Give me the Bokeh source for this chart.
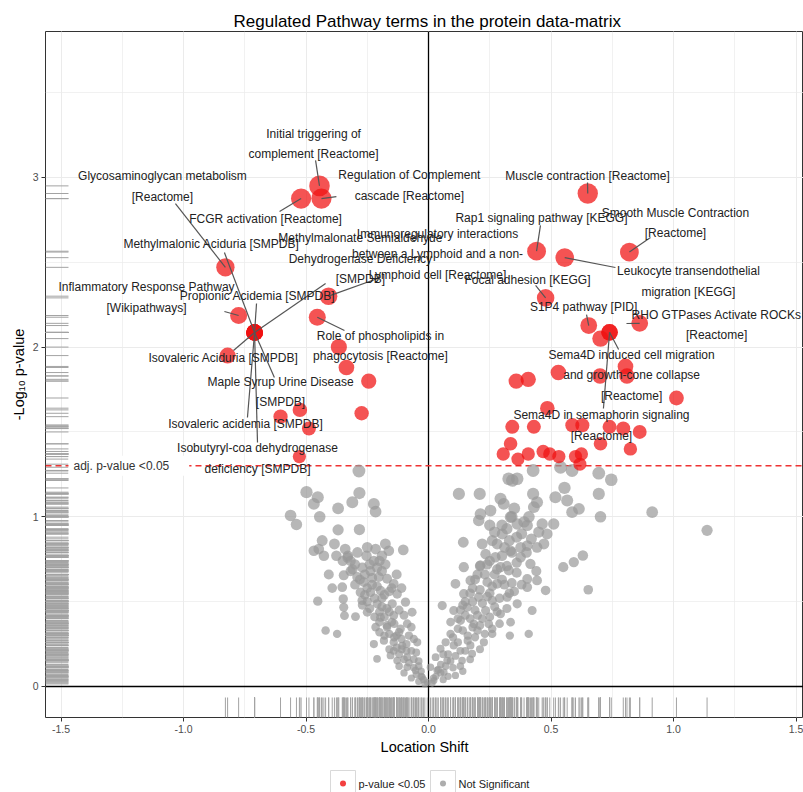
from bokeh.plotting import figure
from bokeh.models import Range1d, SingleIntervalTicker, PrintfTickFormatter, Label
from bokeh.layouts import column
from bokeh.core.properties import value
from bokeh.embed import file_html
from bokeh.resources import INLINE

TITLE = "Regulated Pathway terms in the protein data-matrix"
X_LABEL = "Location Shift"
Y_LABEL = "-Log\u2081\u2080 p-value"
THRESHOLD = 1.301
THRESH_TEXT = "adj. p-value <0.05"
LEGEND_LABELS = ["p-value <0.05", "Not Significant"]

# ---- labelled significant terms (location shift, -log10 p) ----
term_names = [
    "Initial triggering of\ncomplement [Reactome]",
    "Regulation of Complement\ncascade [Reactome]",
    "FCGR activation [Reactome]",
    "Glycosaminoglycan metabolism\n[Reactome]",
    "Methylmalonic Aciduria [SMPDB]",
    "Methylmalonate Semialdehyde\nDehydrogenase Deficiency\n[SMPDB]",
    "Immunoregulatory interactions\nbetween a Lymphoid and a non-\nLymphoid cell [Reactome]",
    "Inflammatory Response Pathway\n[Wikipathways]",
    "Propionic Acidemia [SMPDB]",
    "Isovaleric Aciduria [SMPDB]",
    "Maple Syrup Urine Disease\n[SMPDB]",
    "Isovaleric acidemia [SMPDB]",
    "Isobutyryl-coa dehydrogenase\ndeficiency [SMPDB]",
    "Role of phospholipids in\nphagocytosis [Reactome]",
    "Muscle contraction [Reactome]",
    "Rap1 signaling pathway [KEGG]",
    "Smooth Muscle Contraction\n[Reactome]",
    "Leukocyte transendothelial\nmigration [KEGG]",
    "Focal adhesion [KEGG]",
    "S1P4 pathway [PID]",
    "RHO GTPases Activate ROCKs\n[Reactome]",
    "Sema4D induced cell migration\nand growth-cone collapse\n[Reactome]",
    "Sema4D in semaphorin signaling\n[Reactome]",
]
term_x = [-0.445, -0.437, -0.520, -0.829, -0.710, -0.710, -0.408, -0.775, -0.710, -0.710,
          -0.710, -0.710, -0.710, -0.454, 0.650, 0.441, 0.820, 0.556, 0.478, 0.654,
          0.862, 0.739, 0.739]
term_y = [2.950, 2.875, 2.875, 2.470, 2.086, 2.086, 2.300, 2.186, 2.086, 2.086,
          2.086, 2.086, 2.086, 2.176, 2.905, 2.565, 2.560, 2.527, 2.290, 2.127,
          2.140, 2.087, 2.087]

# label placement (repelled text centres and leader-line ends)
label_x = [-0.469, -0.078, -0.665, -1.086, -0.886, -0.278, 0.037, -1.151, -0.698, -0.837,
           -0.604, -0.747, -0.698, -0.196, 0.649, 0.461, 1.008, 1.061, 0.404, 0.633,
           1.176, 0.829, 0.706]
label_y = [3.197, 2.952, 2.752, 2.946, 2.610, 2.522, 2.546, 2.292, 2.304, 1.933,
           1.735, 1.544, 1.344, 2.006, 3.011, 2.758, 2.731, 2.387, 2.398, 2.239,
           2.130, 1.833, 1.538]
lead_x = [-0.461, -0.376, -0.608, -1.033, -0.833, -0.420, -0.196, -0.833, -0.702, -0.796,
          -0.629, -0.739, -0.698, -0.343, 0.649, 0.457, 0.906, 0.763, 0.437, 0.645,
          0.808, 0.776, 0.714]
lead_y = [3.100, 2.887, 2.799, 2.846, 2.557, 2.375, 2.410, 2.210, 2.257, 1.980,
          1.821, 1.585, 1.438, 2.098, 2.970, 2.717, 2.646, 2.469, 2.363, 2.192,
          2.139, 1.986, 1.638]

# ---- other significant terms ----
sig_x = [-0.820, -0.366, -0.335, -0.244, -0.273, -0.604, -0.525, -0.488, -0.527,
         0.702, 0.804, 0.810, 0.700, 0.530, 0.358, 0.407, 1.012, 0.485, 0.342, 0.430,
         0.587, 0.628, 0.739, 0.795, 0.862, 0.702, 0.824, 0.335, 0.305, 0.365, 0.407,
         0.468, 0.495, 0.532, 0.600, 0.624, 0.618]
sig_y = [1.950, 2.000, 1.880, 1.800, 1.610, 1.590, 1.630, 1.520, 1.355,
         2.050, 1.886, 1.830, 1.830, 1.850, 1.800, 1.810, 1.700, 1.640, 1.530, 1.530,
         1.540, 1.540, 1.530, 1.520, 1.500, 1.430, 1.400, 1.430, 1.370, 1.340, 1.370,
         1.385, 1.370, 1.355, 1.355, 1.370, 1.310]

# ---- not significant terms ----
ns_x = [-0.284, -0.498, -0.452, -0.468, -0.563, -0.539, -0.444, -0.369, -0.311, -0.282,
        -0.223, -0.216, -0.369, -0.282, -0.434, -0.468, -0.448, -0.427, -0.384, -0.376,
        -0.329, -0.318, -0.253, -0.216, -0.176, -0.162, -0.103, -0.176, -0.223, -0.237,
        -0.407, -0.346, -0.318, -0.291, -0.264, -0.203, -0.169, -0.142, -0.393, -0.352,
        -0.278, -0.237, -0.196, -0.128, -0.452, -0.348, -0.346, -0.271, -0.210, -0.148,
        -0.094, -0.343, -0.298, -0.250, -0.196, -0.142, -0.067, -0.420, -0.373, -0.216,
        -0.169, -0.114, -0.087, -0.223, -0.182, -0.142, -0.107, -0.046, -0.210, -0.155,
        -0.128, -0.087, -0.087, -0.053, -0.026, -0.005, -0.142,
        -0.230, -0.190, -0.170, -0.150, -0.130, -0.120, -0.100, -0.080, -0.070, -0.060,
        -0.040, -0.030, -0.020, -0.110, -0.090, -0.160, -0.180, -0.200, -0.250, -0.260,
        -0.300, -0.350, -0.210, -0.190, -0.130, -0.110, -0.070, -0.050, -0.120, -0.100,
        -0.070, -0.040, -0.015, -0.060, -0.160, -0.200,
        -0.030, -0.050, -0.060, -0.080, -0.100, -0.040, -0.120, -0.090, -0.130, -0.160,
        -0.110, -0.140, -0.180, -0.120, -0.170, -0.200, -0.140, -0.220, -0.160, -0.240,
        -0.190, -0.270, -0.220, -0.180, -0.260, -0.210, -0.250, -0.300, -0.150, -0.230,
        -0.280, -0.190, -0.270, -0.310, -0.240, -0.330, -0.200, -0.290, -0.250, -0.340,
        0.124, 0.209, 0.342, 0.362, 0.327, 0.427, 0.539, 0.586, 0.695, 0.746,
        0.695, 0.702, 0.913, 1.137, 0.555, 0.518, 0.566, 0.614, 0.586, 0.427,
        0.443, 0.294, 0.307, 0.430, 0.212, 0.253, 0.205, 0.335, 0.362, 0.403,
        0.464, 0.511, 0.484, 0.142, 0.219, 0.260, 0.301, 0.335, 0.376, 0.403,
        0.443, 0.471, 0.233, 0.273, 0.376, 0.416, 0.550, 0.593, 0.630, 0.652,
        0.144, 0.212, 0.294, 0.328, 0.110, 0.171, 0.240, 0.280, 0.403, 0.443,
        0.403, 0.478, 0.144, 0.205, 0.260, 0.321, 0.362, 0.423, 0.056, 0.103,
        0.158, 0.233, 0.294, 0.131, 0.185, 0.246, 0.335, 0.409, 0.332, 0.226,
        0.260, 0.090, 0.049, 0.103, 0.171, 0.178, 0.029, 0.076, 0.137, 0.008,
        0.035, 0.110, 0.022, 0.063,
        0.180, 0.200, 0.250, 0.270, 0.310, 0.350, 0.150, 0.190, 0.220, 0.270,
        0.120, 0.160, 0.200, 0.290, 0.070, 0.130, 0.080, 0.050, 0.100, 0.030,
        0.015, 0.060, 0.140, 0.210, 0.360, 0.380, 0.300, 0.410, 0.250, 0.350,
        0.240, 0.310, 0.440, 0.130, 0.090, 0.170,
        0.040, 0.070, 0.090, 0.110, 0.060, 0.150, 0.120, 0.160, 0.190, 0.230,
        0.100, 0.140, 0.180, 0.210, 0.260, 0.120, 0.150, 0.200, 0.250, 0.280,
        0.320, 0.140, 0.180, 0.220, 0.240, 0.290, 0.330, 0.170, 0.210, 0.260,
        0.300, 0.340, 0.380, 0.190, 0.230, 0.280, 0.320, 0.360, 0.210, 0.250,
        0.300, 0.340, 0.400, 0.280, 0.330, 0.360, 0.420, 0.270, 0.320, 0.450,
        0.390, 0.340, 0.050, 0.020, 0.080, 0.130, 0.170]
ns_y = [1.270, 1.145, 1.115, 1.076, 1.008, 0.955, 1.000, 1.050, 1.086, 1.140,
        1.076, 1.030, 0.923, 0.925, 0.860, 0.800, 0.810, 0.770, 0.840, 0.770,
        0.770, 0.740, 0.770, 0.810, 0.840, 0.800, 0.805, 0.720, 0.740, 0.680,
        0.660, 0.655, 0.680, 0.645, 0.615, 0.645, 0.635, 0.605, 0.580, 0.585,
        0.555, 0.555, 0.565, 0.545, 0.503, 0.516, 0.467, 0.507, 0.487, 0.487,
        0.497, 0.418, 0.412, 0.438, 0.408, 0.418, 0.438, 0.330, 0.310, 0.350,
        0.350, 0.340, 0.370, 0.250, 0.270, 0.260, 0.240, 0.260, 0.163, 0.183,
        0.153, 0.173, 0.114, 0.094, 0.055, 0.025, 0.210,
        0.600, 0.520, 0.460, 0.380, 0.300, 0.450, 0.420, 0.300, 0.210, 0.160,
        0.120, 0.090, 0.040, 0.220, 0.250, 0.310, 0.410, 0.440, 0.500, 0.660,
        0.720, 0.740, 0.700, 0.770, 0.660, 0.580, 0.350, 0.200, 0.120, 0.080,
        0.050, 0.030, 0.015, 0.280, 0.560, 0.320,
        0.060, 0.070, 0.110, 0.140, 0.160, 0.150, 0.190, 0.210, 0.230, 0.220,
        0.280, 0.290, 0.300, 0.320, 0.360, 0.380, 0.370, 0.410, 0.440, 0.460,
        0.470, 0.480, 0.520, 0.540, 0.540, 0.590, 0.580, 0.600, 0.580, 0.640,
        0.630, 0.680, 0.700, 0.690, 0.720, 0.760, 0.740, 0.790, 0.820, 0.810,
        1.135, 1.135, 1.214, 1.224, 1.224, 1.273, 1.292, 1.273, 1.257, 1.218,
        1.135, 1.000, 1.027, 0.920, 1.170, 1.115, 1.096, 1.047, 1.027, 1.135,
        1.086, 1.106, 1.076, 1.057, 1.016, 1.037, 0.978, 0.998, 0.958, 0.949,
        0.958, 0.958, 0.899, 0.850, 0.840, 0.860, 0.899, 0.800, 0.820, 0.830,
        0.820, 0.840, 0.780, 0.762, 0.762, 0.723, 0.703, 0.733, 0.772, 0.570,
        0.703, 0.713, 0.703, 0.684, 0.605, 0.625, 0.615, 0.605, 0.634, 0.625,
        0.585, 0.566, 0.546, 0.527, 0.507, 0.527, 0.487, 0.448, 0.477, 0.448,
        0.467, 0.448, 0.428, 0.389, 0.369, 0.369, 0.379, 0.310, 0.300, 0.260,
        0.310, 0.310, 0.222, 0.242, 0.242, 0.193, 0.173, 0.153, 0.153, 0.114,
        0.094, 0.065, 0.035, 0.084,
        0.580, 0.660, 0.550, 0.660, 0.600, 0.560, 0.500, 0.450, 0.400, 0.470,
        0.340, 0.300, 0.330, 0.370, 0.260, 0.210, 0.190, 0.130, 0.110, 0.060,
        0.020, 0.040, 0.090, 0.220, 0.670, 0.900, 0.950, 1.000, 0.950, 1.050,
        0.720, 0.820, 0.680, 0.450, 0.380, 0.400,
        0.100, 0.120, 0.150, 0.180, 0.190, 0.210, 0.260, 0.270, 0.290, 0.310,
        0.290, 0.330, 0.350, 0.360, 0.340, 0.400, 0.420, 0.420, 0.410, 0.440,
        0.460, 0.480, 0.500, 0.490, 0.530, 0.520, 0.550, 0.550, 0.570, 0.590,
        0.630, 0.610, 0.600, 0.630, 0.660, 0.690, 0.710, 0.730, 0.710, 0.740,
        0.770, 0.790, 0.790, 0.840, 0.860, 0.880, 0.870, 0.910, 0.930, 0.910,
        0.970, 1.000, 0.080, 0.050, 0.060, 0.120, 0.160]

# ---------------- layout constants ----------------
FONT = "Liberation Sans"
X0, X1 = -1.5633, 1.5306
Y0, Y1 = -0.1827, 3.8597
RUG_X = 23 / 245.0   # rug length in x units (3% of panel)
RUG_Y = 20 / 169.7   # rug length in y units

red_x = term_x + sig_x
red_y = term_y + sig_y
all_x = ns_x + red_x
all_y = ns_y + red_y


def sizes(ys):
    return [7 + 4.6 * v for v in ys]


p = figure(width=803, height=768, x_range=Range1d(X0, X1), y_range=Range1d(Y0, Y1),
           output_backend="svg", toolbar_location=None,
           min_border_left=45, min_border_right=0, min_border_top=31, min_border_bottom=51)

p.title.text = TITLE
p.title.align = "left"
p.title.text_font = FONT
p.title.text_font_size = "17px"
p.title.text_font_style = "normal"
p.title.text_color = "black"
p.title.standoff = 1
p.title.offset = 188

p.outline_line_color = "#333333"
p.outline_line_width = 1
p.background_fill_color = "white"

p.xaxis.ticker = SingleIntervalTicker(interval=0.5, num_minor_ticks=2)
p.xaxis.formatter = PrintfTickFormatter(format="%.1f")
p.yaxis.ticker = SingleIntervalTicker(interval=1, num_minor_ticks=2)
p.yaxis.formatter = PrintfTickFormatter(format="%d")
p.xaxis.axis_label = X_LABEL
p.yaxis.axis_label = Y_LABEL
for ax in (p.xaxis, p.yaxis):
    ax.axis_line_color = None
    ax.major_tick_line_color = "#333333"
    ax.major_tick_out = 4
    ax.major_tick_in = 0
    ax.minor_tick_line_color = None
    ax.major_label_text_font = FONT
    ax.major_label_text_font_size = "10.5px"
    ax.major_label_text_color = "#4d4d4d"
    ax.major_label_standoff = 3
    ax.axis_label_text_font = FONT
    ax.axis_label_text_font_size = "14.5px"
    ax.axis_label_text_font_style = "normal"
    ax.axis_label_text_color = "black"
    ax.axis_label_standoff = 3

for g in (p.xgrid, p.ygrid):
    g.grid_line_color = "#ebebeb"
    g.grid_line_width = 1
    g.minor_grid_line_color = "#ebebeb"
    g.minor_grid_line_width = 0.7

# zero lines
p.segment(x0=[X0], x1=[X1], y0=[0], y1=[0], line_color="black", line_width=1.3)
p.segment(x0=[0], x1=[0], y0=[Y0], y1=[Y1], line_color="black", line_width=1.3)

# rugs
p.segment(x0=all_x, x1=all_x, y0=[Y0] * len(all_x), y1=[Y0 + RUG_Y] * len(all_x),
          line_color="#a3a3a3", line_alpha=1.0, line_width=1)
p.segment(x0=[X0] * len(all_y), x1=[X0 + RUG_X] * len(all_y), y0=all_y, y1=all_y,
          line_color="#a3a3a3", line_alpha=1.0, line_width=1)

# threshold
p.segment(x0=[X0], x1=[X1], y0=[THRESHOLD], y1=[THRESHOLD], line_color="#ee3333",
          line_width=1.4, line_dash="6 4")

# points
p.scatter(ns_x, ns_y, size=sizes(ns_y), fill_color="#999999", fill_alpha=0.7, line_color=None)
p.scatter(red_x, red_y, size=sizes(red_y), fill_color="#f01010", fill_alpha=0.72, line_color=None)

# leader lines and labels
p.segment(x0=term_x, y0=term_y, x1=lead_x, y1=lead_y, line_color="#555555", line_width=1.2)
p.text(x=label_x, y=label_y, text=term_names, text_font=value(FONT), text_font_size="12px",
       text_align="center", text_baseline="middle", text_line_height=1.45, text_color="#222222")

thr = Label(x=X0 + RUG_X, y=THRESHOLD, text=THRESH_TEXT, text_font=FONT, text_font_size="12px",
            text_color="#333333", text_baseline="middle", text_align="left",
            background_fill_color="white", background_fill_alpha=1.0,
            padding=dict(left=5, right=20, top=3, bottom=3))
p.add_layout(thr)

# ---------------- legend strip (x in page pixels; frame aligns with main plot) ----------------
leg = figure(width=803, height=24, x_range=Range1d(45, 803), y_range=Range1d(0, 24),
             output_backend="svg", toolbar_location=None, x_axis_type=None, y_axis_type=None,
             min_border_left=45, min_border_right=0, min_border_top=0, min_border_bottom=0)
leg.outline_line_color = None
leg.grid.visible = False
key_left = [330, 430]
key_w = 25
leg.quad(left=key_left, right=[k + key_w for k in key_left], bottom=[-8, -8], top=[22, 22],
         fill_color="white", line_color="#d9d9d9", line_width=1)
leg.scatter([k + key_w / 2 for k in key_left], [9, 9], size=6,
            fill_color=["#f01010", "#999999"], fill_alpha=0.8, line_color=None)
leg.text(x=[k + key_w + 3 for k in key_left], y=[9, 9], text=LEGEND_LABELS,
         text_font=value(FONT), text_font_size="11px", text_baseline="middle",
         text_align="left", text_color="#222222")

layout = column(p, leg, spacing=0)
open("out.html", "w").write(file_html(layout, INLINE))
